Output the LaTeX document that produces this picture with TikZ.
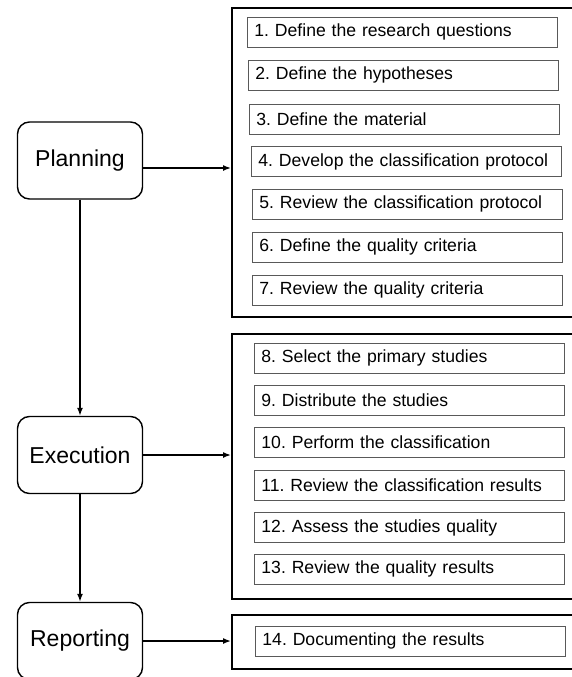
\documentclass[tikz,border=0pt]{standalone}
\usepackage{fontspec}
\setmainfont{Liberation Sans}
\frenchspacing
\usetikzlibrary{arrows.meta}
\tikzset{
  phase/.style={draw, rounded corners=12pt, line width=1.4pt, minimum width=125pt, minimum height=77pt, font=\fontsize{23}{27}\selectfont},
  stepbox/.style={draw=black!65, line width=0.9pt, anchor=west, minimum height=30pt, text width=300pt, inner xsep=5pt, align=left, font=\fontsize{17.6}{21}\selectfont},
  group/.style={draw, line width=1.6pt, anchor=north west, inner sep=0pt, minimum width=345pt},
  flow/.style={-{Latex[length=8pt,width=6pt]}, line width=1.5pt}
}
\begin{document}
\begin{tikzpicture}[x=1pt,y=-1pt]
        \useasboundingbox (0,0) rectangle (571,677);
        % phases
        \node[phase] (plan) at (80,160.5) {Planning};
        \node[phase] (exec) at (80,455) {Execution};
        \node[phase] (report) at (80,641) {Reporting};
        % activity groups
        \node[group, minimum height=309pt] (g1) at (231,7) {};
        \node[group, minimum height=265pt] (g2) at (231,333) {};
        \node[group, minimum height=54pt] (g3) at (231,614) {};
        % planning activities
        \node[stepbox] (s1) at (247,32) {\hspace{2pt}1. Define the research questions};
        \node[stepbox] (s2) at (248,75) {\hspace{2pt}2. Define the hypotheses};
        \node[stepbox] (s3) at (249,119) {\hspace{2pt}3. Define the material};
        \node[stepbox] (s4) at (251,161.5) {\hspace{2pt}4. Develop the classification protocol};
        \node[stepbox] (s5) at (252,204) {\hspace{2pt}5. Review the classification protocol};
        \node[stepbox] (s6) at (252,247) {\hspace{2pt}6. Define the quality criteria};
        \node[stepbox] (s7) at (252,290) {\hspace{2pt}7. Review the quality criteria};
        % execution activities
        \node[stepbox] (s8) at (254,358) {\hspace{2pt}8. Select the primary studies};
        \node[stepbox] (s9) at (254,400) {\hspace{2pt}9. Distribute the studies};
        \node[stepbox] (s10) at (254,442.5) {\hspace{2pt}10. Perform the classification};
        \node[stepbox] (s11) at (254,485) {\hspace{2pt}11. Review the classification results};
        \node[stepbox] (s12) at (254,527.5) {\hspace{2pt}12. Assess the studies quality};
        \node[stepbox] (s13) at (254,569) {\hspace{2pt}13. Review the quality results};
        % reporting activities
        \node[stepbox] (s14) at (255,641) {\hspace{2pt}14. Documenting the results};
        % connectors
        \draw[flow] (plan) -- (exec);
        \draw[flow] (exec) -- (report);
        \draw[flow] ([yshift=-7.5pt]plan.east) -- ([yshift=-7.5pt]plan.east -| g1.west);
        \draw[flow] (exec) -- (exec -| g2.west);
        \draw[flow] (report) -- (report -| g3.west);
    \end{tikzpicture}
\end{document}
